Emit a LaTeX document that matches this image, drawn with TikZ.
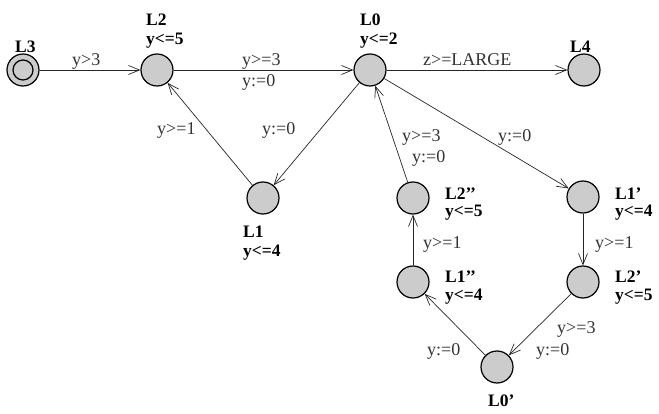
\documentclass[tikz,border=0pt]{standalone}
\usepackage{fontspec}
\setmainfont{Liberation Serif}
\usetikzlibrary{arrows.meta}
\begin{document}
\begin{tikzpicture}[x=1pt,y=-1pt,
  loc/.style={circle,draw=black,line width=1.2pt,fill=black!20,minimum size=32pt,inner sep=0pt},
  edge/.style={line width=0.7pt,draw=black!85,-{Straight Barb[length=11pt,width=9pt,line width=0.7pt]}},
  nm/.style={anchor=base west,inner sep=0pt,font=\fontsize{17.5}{19}\selectfont\bfseries},
  lb/.style={anchor=base west,inner sep=0pt,font=\fontsize{18}{20}\selectfont,text=black!80}]
\useasboundingbox (0,0) rectangle (659,414);
% locations
\node[loc] (L3) at (23,70) {};
\node[circle,draw=black,line width=1.2pt,minimum size=20pt,inner sep=0pt] (L3i) at (23,70) {};
\node[loc] (L2) at (157,70) {};
\node[loc] (L0) at (370,70) {};
\node[loc] (L4) at (584,70) {};
\node[loc] (L1) at (263,198) {};
\node[loc] (L2b) at (413,198) {};
\node[loc] (L1a) at (583,197) {};
\node[loc] (L1b) at (413,282) {};
\node[loc] (L2a) at (583,282) {};
\node[loc] (L0a) at (497,367) {};
% names and invariants
\node[nm] (n3) at (15,53) {L3};
\node[nm] (n2) at (146,26) {L2};
\node[nm] (i2) at (146,45) {y<=5};
\node[nm] (n0) at (360,26) {L0};
\node[nm] (i0) at (360,45) {y<=2};
\node[nm] (n4) at (570,53) {L4};
\node[nm] (n1) at (243,238) {L1};
\node[nm] (i1) at (243,257) {y<=4};
\node[nm] (n2b) at (445,200) {L2’’};
\node[nm] (i2b) at (445,217) {y<=5};
\node[nm] (n1a) at (615,200) {L1’};
\node[nm] (i1a) at (615,217) {y<=4};
\node[nm] (n1b) at (445,283) {L1’’};
\node[nm] (i1b) at (445,301) {y<=4};
\node[nm] (n2a) at (615,283) {L2’};
\node[nm] (i2a) at (615,301) {y<=5};
\node[nm] (n0a) at (488,406) {L0’};
% edges
\draw[edge] (L3) -- (L2);
\draw[edge] (L2) -- (L0);
\draw[edge] (L0) -- (L4);
\draw[edge] (L1) -- (L2);
\draw[edge] (L0) -- (L1);
\draw[edge] (L2b) -- (L0);
\draw[edge] (L0) -- (L1a);
\draw[edge] (L1a) -- (L2a);
\draw[edge] (L2a) -- (L0a);
\draw[edge] (L0a) -- (L1b);
\draw[edge] (L1b) -- (L2b);
% edge labels
\node[lb] (e1) at (72,66) {y>3};
\node[lb] (e2) at (242,66) {y>=3};
\node[lb] (e3) at (242,87) {y:=0};
\node[lb] (e4) at (423,66) {z>=LARGE};
\node[lb] (e5) at (157,135) {y>=1};
\node[lb] (e6) at (262,135) {y:=0};
\node[lb] (e7) at (402,142) {y>=3};
\node[lb] (e8) at (412,163) {y:=0};
\node[lb] (e9) at (498,142) {y:=0};
\node[lb] (e10) at (423,249) {y>=1};
\node[lb] (e11) at (595,249) {y>=1};
\node[lb] (e12) at (557,333) {y>=3};
\node[lb] (e13) at (536,355) {y:=0};
\node[lb] (e14) at (427,355) {y:=0};
\end{tikzpicture}
\end{document}
